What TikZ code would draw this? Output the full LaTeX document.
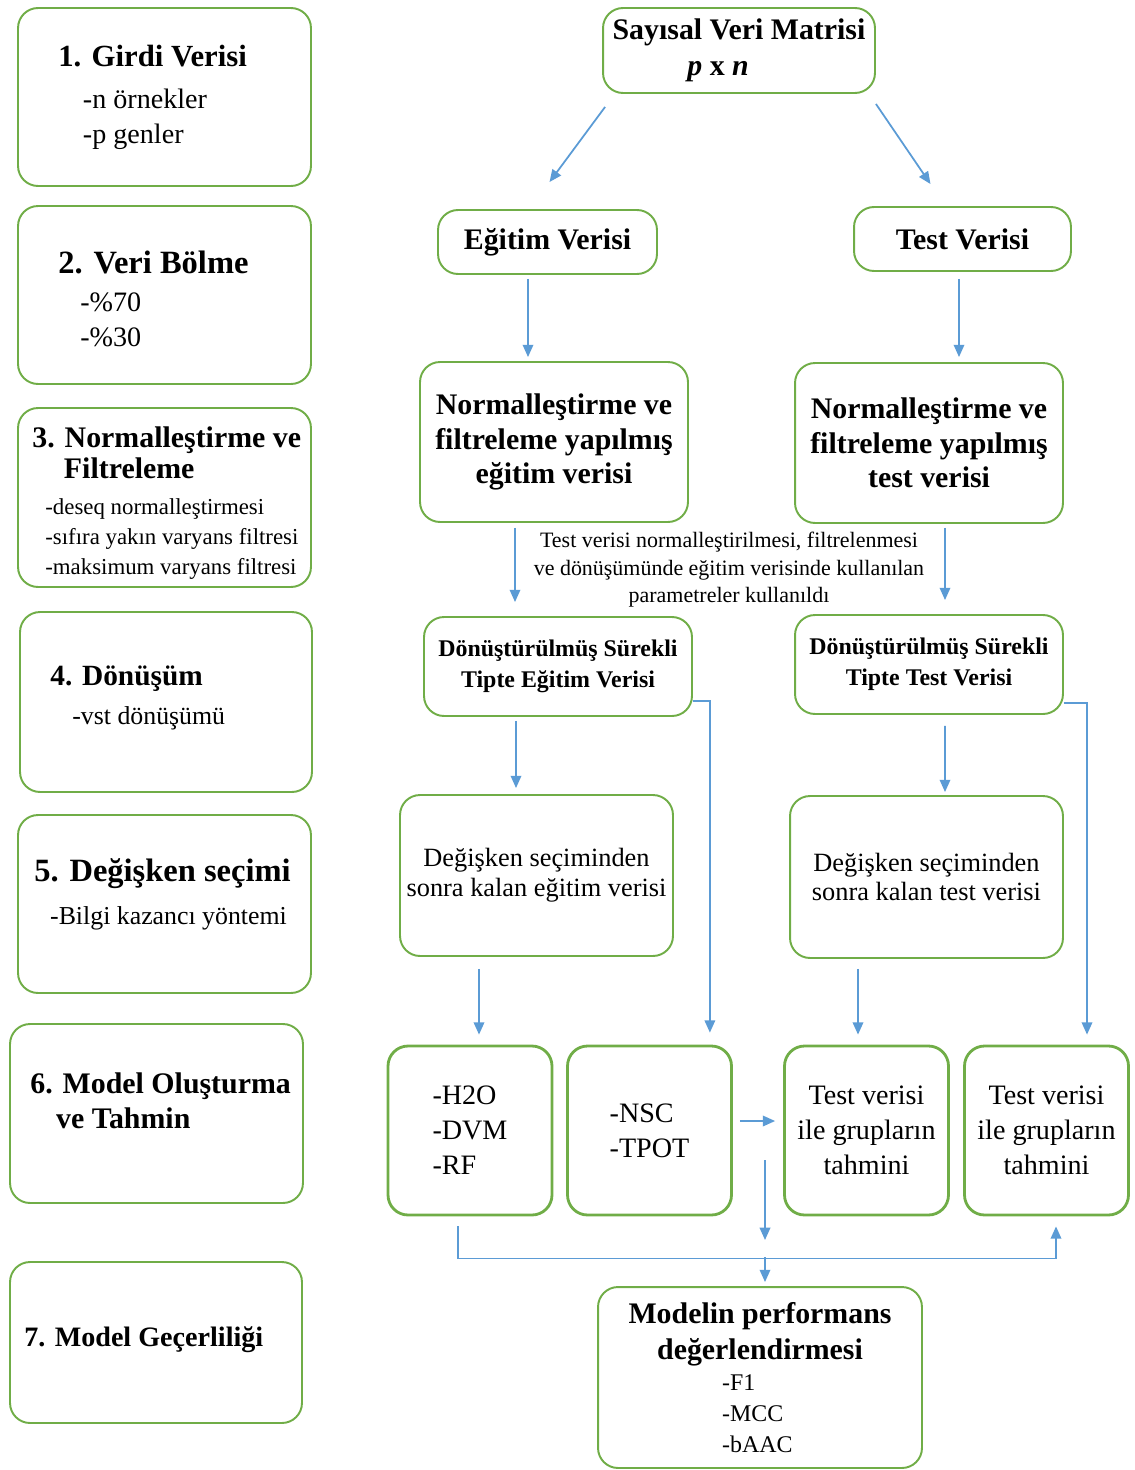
\documentclass[tikz,border=0pt]{standalone}
\usepackage{fontspec}
\setmainfont{Liberation Serif}
\usepackage{xcolor}
\usepackage{tikz}
\usetikzlibrary{arrows.meta}

\definecolor{boxgreen}{HTML}{70AD47}
\definecolor{arrblue}{HTML}{5B9BD5}

\begin{document}
\begin{tikzpicture}[
  x=0.02cm, y=-0.02cm,
  stage/.style={rectangle, rounded corners=0.4cm, draw=boxgreen, line width=1.1pt,
                minimum width=5.86cm, minimum height=3.56cm},
  box/.style={rectangle, rounded corners=0.4cm, draw=boxgreen, line width=1.1pt,
              align=center, inner sep=2pt},
  mdl/.style={box, line width=1.6pt, minimum width=3.28cm, minimum height=3.38cm,
              font=\fontsize{16}{20}\selectfont},
  lbl/.style={anchor=north west, align=left, inner sep=0pt},
  arr/.style={-{Triangle[length=7pt, width=6pt]}, draw=arrblue, line width=1pt}]

\useasboundingbox (0,0) rectangle (1134,1470);

% left column: steps
\node[stage] (s1) at (164.5,97) {};
\node[stage] (s2) at (164.5,295) {};
\node[stage, minimum height=3.58cm] (s3) at (164.5,497.5) {};
\node[stage, minimum width=5.84cm, minimum height=3.6cm] (s4) at (166,702) {};
\node[stage] (s5) at (164.5,904) {};
\node[stage, minimum height=3.58cm] (s6) at (156.5,1113.5) {};
\node[stage, minimum width=5.84cm, minimum height=3.22cm] (s7) at (156,1342.5) {};

\node[lbl, font=\fontsize{16}{20}\selectfont] (s1t) at (58,45)
  {{\fontsize{17.5}{20}\selectfont\bfseries 1. Girdi Verisi}\\[3.8pt]
   \hspace*{14pt}-n örnekler\\
   \hspace*{14pt}-p genler};
\node[lbl, font=\fontsize{16}{20}\selectfont] (s2t) at (58,251)
  {{\fontsize{18.5}{20}\selectfont\bfseries 2. Veri Bölme}\\[1.5pt]
   \hspace*{12.5pt}-\%70\\
   \hspace*{12.5pt}-\%30};
\node[lbl, font=\fontsize{13}{17}\selectfont] (s3t) at (32,426)
  {{\fontsize{17}{17}\selectfont\bfseries 3. Normalleştirme ve}\\[0.6pt]
   {\fontsize{17}{17}\selectfont\bfseries\hspace*{18pt}Filtreleme}\\[4pt]
   \hspace*{7.4pt}-deseq normalleştirmesi\\
   \hspace*{7.4pt}-sıfıra yakın varyans filtresi\\
   \hspace*{7.4pt}-maksimum varyans filtresi};
\node[lbl, font=\fontsize{14.7}{22}\selectfont] (s4t) at (50,666)
  {{\fontsize{16.7}{20}\selectfont\bfseries 4. Dönüşüm}\\
   \hspace*{12.5pt}-vst dönüşümü};
\node[lbl, font=\fontsize{14.7}{24.4}\selectfont] (s5t) at (34,858)
  {{\fontsize{18.5}{20}\selectfont\bfseries 5. Değişken seçimi}\\
   \hspace*{9pt}-Bilgi kazancı yöntemi};
\node[lbl, font=\fontsize{17}{20.4}\selectfont\bfseries] (s6t) at (30,1072)
  {6. Model Oluşturma\\
   \hspace*{14.7pt}ve Tahmin};
\node[lbl, font=\fontsize{16}{20}\selectfont\bfseries] (s7t) at (24,1326)
  {7. Model Geçerliliği};

% right side: flow
\node[box, minimum width=5.44cm, minimum height=1.7cm,
      font=\fontsize{17}{20.4}\selectfont\bfseries] (mat) at (739,50.5)
  {Sayısal Veri Matrisi\\ \textit{p} x \textit{n}\hspace*{1.4em}};
\node[box, minimum width=4.38cm, minimum height=1.28cm,
      font=\fontsize{17}{20}\selectfont\bfseries] (egt) at (547.5,242) {Eğitim Verisi};
\node[box, minimum width=4.34cm, minimum height=1.28cm,
      font=\fontsize{17}{20}\selectfont\bfseries] (tst) at (962.5,239) {Test Verisi};

\node[box, minimum width=5.36cm, minimum height=3.2cm,
      font=\fontsize{17}{19.6}\selectfont\bfseries] (nrmE) at (554,442)
  {Normalleştirme ve\\ filtreleme yapılmış\\ eğitim verisi};
\node[box, minimum width=5.36cm, minimum height=3.2cm,
      font=\fontsize{17}{19.6}\selectfont\bfseries] (nrmT) at (929,443)
  {Normalleştirme ve\\ filtreleme yapılmış\\ test verisi};

\node[align=center, inner sep=0pt, font=\fontsize{12.5}{15.6}\selectfont] (note) at (729,570)
  {Test verisi normalleştirilmesi, filtrelenmesi\\
   ve dönüşümünde eğitim verisinde kullanılan\\
   parametreler kullanıldı};

\node[box, minimum width=5.36cm, minimum height=1.98cm,
      font=\fontsize{13.6}{17.6}\selectfont\bfseries] (dnsE) at (558,666.5)
  {Dönüştürülmüş Sürekli\\ Tipte Eğitim Verisi};
\node[box, minimum width=5.36cm, minimum height=1.98cm,
      font=\fontsize{13.6}{17.6}\selectfont\bfseries] (dnsT) at (929,664.5)
  {Dönüştürülmüş Sürekli\\ Tipte Test Verisi};

\node[box, minimum width=5.46cm, minimum height=3.22cm,
      font=\fontsize{15}{17}\selectfont] (dgsE) at (536.5,875.5)
  {Değişken seçiminden\\ sonra kalan eğitim verisi};
\node[box, minimum width=5.46cm, minimum height=3.24cm,
      font=\fontsize{15}{17}\selectfont] (dgsT) at (926.5,877)
  {Değişken seçiminden\\ sonra kalan test verisi};

\node[mdl, align=left] (mdlA) at (470,1130.5) {-H2O\\ -DVM\\ -RF};
\node[mdl, align=left] (mdlB) at (649.5,1130.5) {-NSC\\ -TPOT};
\node[mdl] (prdA) at (866.5,1130.5) {Test verisi\\ ile grupların\\ tahmini};
\node[mdl] (prdB) at (1046.5,1130.5) {Test verisi\\ ile grupların\\ tahmini};

\node[box, minimum width=6.48cm, minimum height=3.62cm,
      font=\fontsize{13.6}{17.6}\selectfont] (perf) at (760,1377.5)
  {{\fontsize{17}{20}\selectfont\bfseries Modelin performans}\\[3.4pt]
   {\fontsize{17}{20}\selectfont\bfseries değerlendirmesi}\\
   \makebox[43pt][l]{-F1}\\
   \makebox[43pt][l]{-MCC}\\
   \makebox[43pt][l]{-bAAC}};

\coordinate (bus) at (765,1257);

\draw[arr] ([shift={(3,13)}]mat.south west) -- ([shift={(2,-27)}]egt.north);
\draw[arr] ([shift={(0,10)}]mat.south east) -- ([shift={(-32,-22)}]tst.north);
\draw[arr] ([shift={(-19.5,4)}]egt.south) -- ([shift={(-26,-4)}]nrmE.north);
\draw[arr] ([shift={(-3.5,7)}]tst.south) -- ([shift={(30,-5)}]nrmT.north);
\draw[arr] ([shift={(-39,5)}]nrmE.south) -- ([shift={(-43,-14)}]dnsE.north);
\draw[arr] ([shift={(16,4)}]nrmT.south) -- ([shift={(16,-14)}]dnsT.north);
\draw[arr] ([shift={(-42,4)}]dnsE.south) -- ([shift={(-20.5,-6)}]dgsE.north);
\draw[arr] ([shift={(16,11)}]dnsT.south) -- ([shift={(18.5,-3)}]dgsT.north);
\draw[arr] ([shift={(-57.5,12)}]dgsE.south) -- ([shift={(9,-10)}]mdlA.north);
\draw[arr] ([shift={(-68.5,10)}]dgsT.south) -- ([shift={(-8.5,-10)}]prdA.north);
\draw[arr] ([shift={(0,-16)}]dnsE.south east) -| ([shift={(-23,-12)}]mdlB.north east);
\draw[arr] ([shift={(0,-12)}]dnsT.south east) -| ([shift={(40.5,-10)}]prdB.north);
\draw[arr] ([shift={(7,-9.5)}]mdlB.east) -- ([shift={(-8,-9.5)}]prdA.west);
\draw[arr] ([shift={(0,-97)}]bus) -- ([shift={(0,-17)}]bus);
\draw[arr] ([shift={(-12,10)}]mdlA.south) -- ++(0,32) -| ([shift={(9.5,10)}]prdB.south);
\draw[arr] (bus) -- ([shift={(5,-4)}]perf.north);
\end{tikzpicture}
\end{document}
